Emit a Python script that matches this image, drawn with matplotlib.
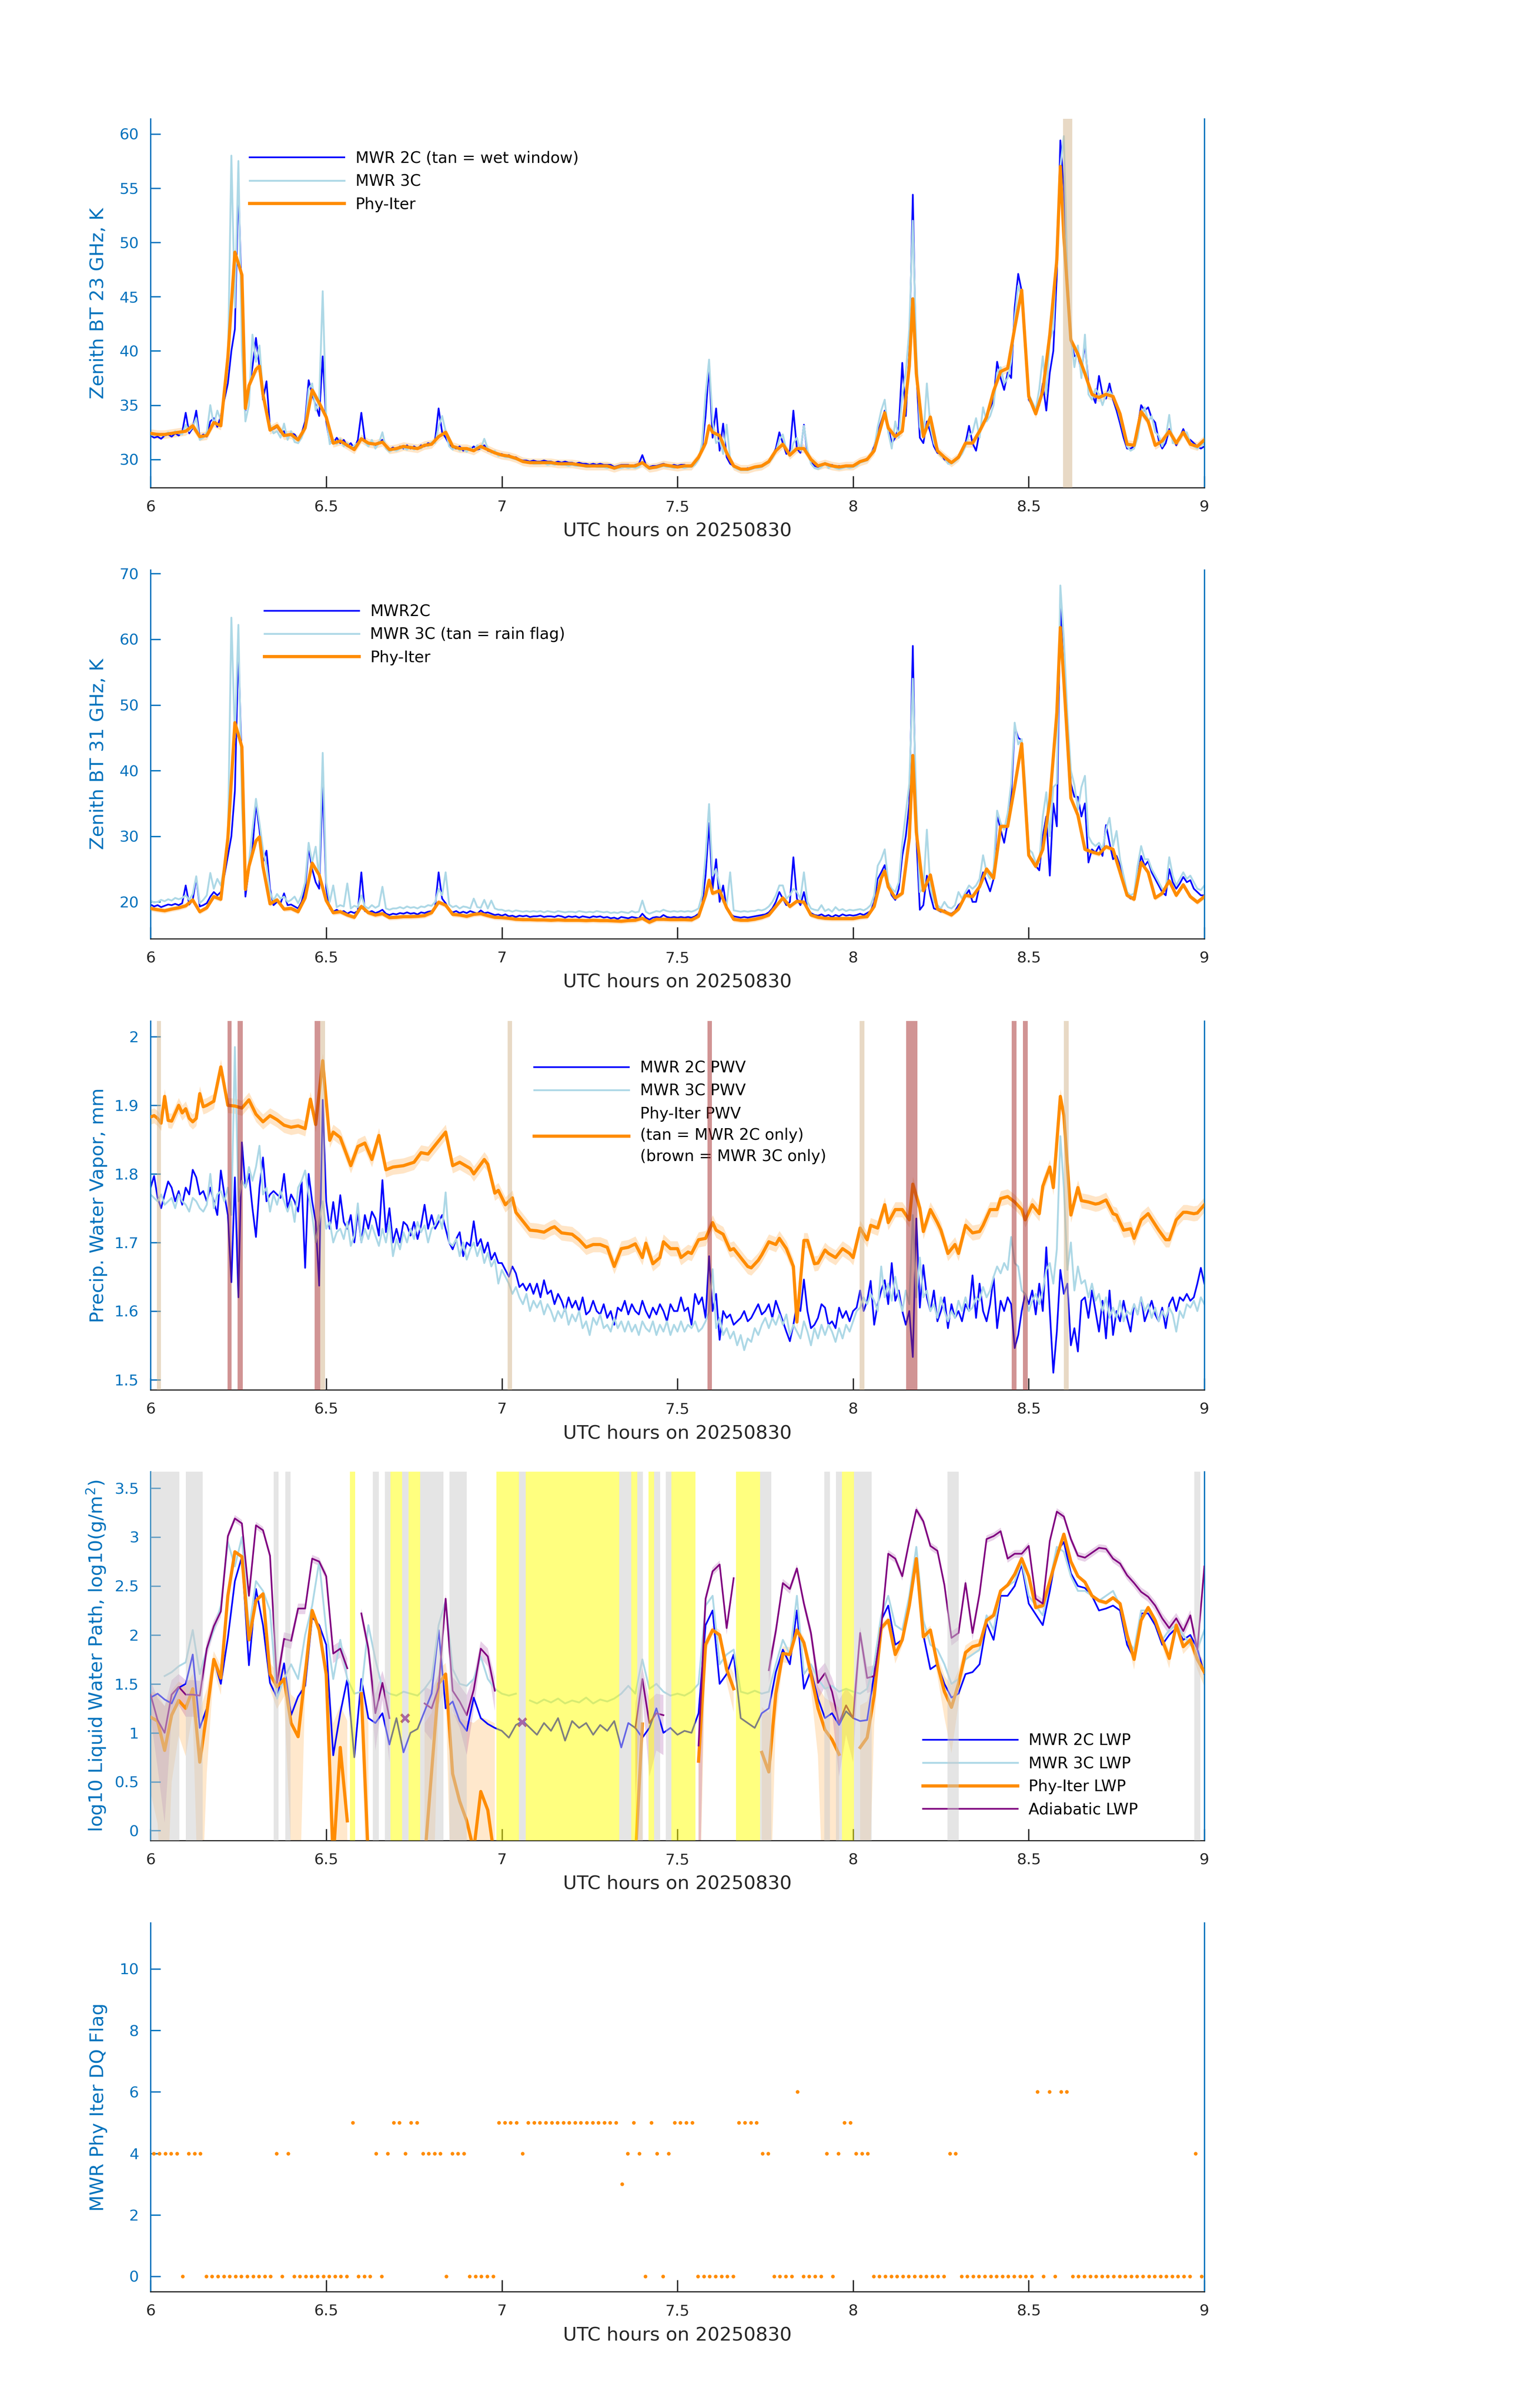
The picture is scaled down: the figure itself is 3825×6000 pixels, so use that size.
import numpy as np
import matplotlib
matplotlib.use("Agg")
import matplotlib.pyplot as plt
from matplotlib.ticker import FuncFormatter

nan = np.nan

# ======================= DATA =======================
# ---- Panel 1: 23 GHz zenith BT (K); MWR series on a 0.01 h grid starting 6.00 ----
bt23_2c = [
    32.2, 32.0, 32.1, 31.9, 32.2, 32.3, 32.1, 32.4, 32.2, 32.5,
    34.3, 32.4, 32.9, 34.5, 32.0, 32.3, 32.1, 33.5, 33.8, 33.0,
    34.0, 35.5, 37.0, 40.0, 42.0, 55.5, 44.0, 34.5, 36.5, 38.5,
    41.2, 38.5, 35.5, 37.2, 33.0, 32.8, 33.0, 32.5, 32.6, 32.0,
    32.4, 32.3, 31.8, 32.4, 33.5, 37.3, 36.0, 35.0, 34.0, 39.5,
    33.5, 31.6, 31.5, 32.0, 31.5, 31.8, 31.2, 31.5, 31.0, 31.8,
    34.3, 31.8, 31.5, 31.6, 31.3, 31.6, 31.8, 31.2, 30.9, 31.1,
    30.9, 31.2, 31.0, 31.3, 31.0, 31.2, 31.0, 31.3, 31.2, 31.5,
    31.4, 31.8, 34.7, 32.5, 32.0, 31.4, 31.1, 31.0, 31.2, 30.8,
    31.0, 30.9, 31.2, 30.9, 31.0, 31.3, 30.8, 30.7, 30.6, 30.5,
    30.5, 30.3, 30.4, 30.2, 30.2, 30.0, 29.9, 29.9, 29.8, 29.9,
    29.8, 29.8, 29.9, 29.8, 29.8, 29.7, 29.8, 29.7, 29.8, 29.7,
    29.7, 29.6, 29.7, 29.6, 29.6, 29.5, 29.6, 29.5, 29.6, 29.5,
    29.5, 29.5, 29.3, 29.4, 29.5, 29.5, 29.5, 29.4, 29.5, 29.6,
    30.4, 29.5, 29.3, 29.4, 29.4, 29.5, 29.6, 29.5, 29.4, 29.5,
    29.4, 29.5, 29.5, 29.4, 29.5, 29.7, 30.2, 31.0, 34.0, 38.6,
    32.0, 34.7, 30.8, 33.3, 30.2, 29.6, 29.4, 29.2, 29.1, 29.1,
    29.2, 29.1, 29.3, 29.3, 29.4, 29.6, 29.8, 30.3, 31.0, 32.5,
    31.5, 30.5, 30.8, 34.5, 31.0, 30.6, 33.2, 30.5, 29.8, 29.4,
    29.3, 29.5, 29.6, 29.4, 29.5, 29.3, 29.4, 29.3, 29.4, 29.3,
    29.4, 29.5, 29.8, 29.9, 30.1, 30.4, 31.2, 32.5, 33.5, 34.5,
    33.0, 31.5, 32.0, 33.0, 38.9, 34.0, 40.0, 54.4, 38.0, 32.0,
    31.5, 33.5, 32.5, 31.2, 30.6, 30.5, 30.0, 29.8, 29.7, 30.0,
    30.3, 30.8, 31.5, 33.1, 31.5, 30.8, 32.5, 33.2, 34.0, 34.7,
    35.5, 39.0, 37.5, 36.4, 38.0, 37.5, 44.0, 47.1, 45.5, 40.0,
    35.5, 35.0, 34.3, 35.0, 37.0, 34.5, 38.0, 40.0, 47.0, 59.4,
    55.0, 46.0, 41.0, 39.5, 39.7, 38.0, 40.7, 37.0, 36.0, 35.2,
    37.7, 36.0, 35.6, 37.0, 35.5, 34.5, 33.3, 32.0, 31.0, 31.0,
    31.2, 33.0, 35.0, 34.5, 34.8, 33.8, 33.4, 31.8, 31.0, 31.5,
    32.8, 32.0, 31.3, 32.0, 32.8, 32.0, 31.8, 31.5, 31.2, 31.0,
    31.2]
bt23_3c = [
    32.3, 32.2, 32.4, 32.3, 32.2, 32.5, 32.3, 32.6, 32.4, 32.3,
    33.2, 32.6, 33.0, 33.8, 31.8, 32.0, 32.5, 35.0, 33.2, 34.5,
    33.6, 36.5, 38.5, 58.0, 44.0, 57.5, 40.0, 33.5, 35.0, 41.5,
    39.0, 40.5, 36.0, 34.5, 33.2, 32.4, 32.6, 32.0, 33.3, 31.8,
    32.6, 31.6, 31.5, 32.0, 33.0, 36.5, 37.0, 34.5, 35.5, 45.5,
    34.0, 31.4, 31.8, 31.4, 31.9, 31.2, 31.5, 31.0, 31.3, 31.5,
    32.0, 31.6, 31.2, 31.8, 31.0, 31.5, 32.5, 31.0, 30.7, 30.9,
    30.8, 31.0, 31.1, 30.9, 31.2, 30.9, 31.1, 31.0, 31.4, 31.2,
    31.6, 31.5, 33.0, 34.0, 32.6, 31.2, 30.9, 31.2, 30.8, 31.0,
    30.7, 31.1, 30.8, 31.3, 31.0, 31.9, 31.0, 30.6, 30.8, 30.3,
    30.4, 30.2, 30.2, 30.1, 30.0, 29.9, 29.8, 29.7, 29.7, 29.6,
    29.6, 29.6, 29.7, 29.5, 29.6, 29.5, 29.6, 29.5, 29.5, 29.4,
    29.5, 29.4, 29.4, 29.4, 29.3, 29.3, 29.4, 29.3, 29.3, 29.3,
    29.2, 29.3, 29.1, 29.2, 29.2, 29.3, 29.2, 29.3, 29.2, 29.3,
    29.8, 29.3, 29.1, 29.2, 29.2, 29.3, 29.4, 29.3, 29.3, 29.2,
    29.3, 29.3, 29.2, 29.3, 29.3, 29.5, 30.0, 31.5, 36.0, 39.2,
    33.5, 31.5, 31.8, 30.5, 33.2, 30.0, 29.3, 29.1, 29.0, 29.0,
    29.0, 29.1, 29.2, 29.2, 29.3, 29.5, 29.7, 30.1, 30.7, 31.8,
    32.3, 30.8, 30.3, 31.5, 32.0, 30.8, 33.1, 30.9, 29.6, 29.2,
    29.1, 29.3, 29.7, 29.2, 29.4, 29.2, 29.1, 29.2, 29.3, 29.2,
    29.3, 29.4, 29.7, 29.8, 29.9, 30.5, 31.0, 33.0, 34.5, 35.5,
    32.5, 31.0, 33.5, 32.0, 36.0, 38.0, 42.0, 52.0, 40.0, 33.0,
    32.0, 37.0, 33.0, 31.5, 30.8, 30.3, 30.2, 29.6, 29.6, 29.8,
    30.1, 30.5, 31.2, 32.2, 32.5, 33.8, 32.0, 34.8, 33.5, 34.0,
    35.0, 38.0, 38.5, 37.0, 37.5, 39.0, 43.0, 46.0, 45.0, 41.0,
    36.0, 35.3, 34.6, 36.5, 39.5, 36.0, 41.0, 42.0, 50.0, 57.0,
    59.8, 47.0, 41.5, 38.5, 40.5, 37.5, 41.5, 36.0, 35.5, 36.5,
    36.0, 35.0, 36.0, 36.3, 35.8, 35.0, 33.8, 32.5, 31.2, 30.8,
    31.0, 32.0, 34.0, 34.8, 33.5, 34.0, 32.5, 32.2, 31.2, 32.0,
    34.1, 31.5, 31.5, 31.8, 32.5, 32.5, 31.5, 31.2, 31.0, 31.3,
    31.5]

# Phy-Iter (panels 1-2): 0.02 h grid plus these extra retrieval times
phy12_extra_t = [6.27, 6.31, 7.59, 8.09, 8.17, 8.59]
bt23_phy = [
    32.4, 32.3, 32.3, 32.4, 32.5, 32.6, 33.1, 32.1, 32.2, 33.4,
    33.1, 39.4, 49.1, 47.0, 34.7, 36.8, 38.3, 38.6, 36.0, 32.7, 33.1, 32.2,
    32.3, 31.8, 32.9, 36.4, 35.2, 33.9, 31.5, 31.7, 31.3, 30.9,
    31.9, 31.5, 31.4, 31.6, 30.9, 31.0, 31.2, 31.1, 31.0, 31.3,
    31.4, 32.1, 32.5, 31.2, 31.0, 31.0, 30.8, 31.2, 30.9, 30.6,
    30.4, 30.3, 30.1, 29.8, 29.7, 29.7, 29.7, 29.7, 29.6, 29.6,
    29.6, 29.5, 29.4, 29.4, 29.4, 29.4, 29.2, 29.4, 29.4, 29.4,
    29.7, 29.2, 29.3, 29.5, 29.4, 29.3, 29.4, 29.4, 30.2, 31.5, 33.1,
    32.5, 32.2, 30.6, 29.4, 29.1, 29.1, 29.3, 29.4, 29.8, 30.8,
    31.4, 30.4, 31.0, 31.0, 30.0, 29.4, 29.6, 29.4, 29.3, 29.4,
    29.4, 29.8, 30.0, 30.8, 33.1, 34.3, 32.9, 32.1, 32.6, 38.6, 44.8, 37.9,
    32.1, 33.9, 30.8, 30.2, 29.7, 30.2, 31.5, 31.5, 32.6, 33.9,
    36.3, 38.1, 38.4, 42.1, 45.6, 35.8, 34.2, 36.3, 41.5, 48.4, 57.0,
    50.5, 41.0, 39.7, 37.9, 36.0, 35.7, 36.0, 35.8, 34.2, 31.4,
    31.3, 34.4, 33.5, 31.3, 31.7, 32.6, 31.5, 32.5, 31.4, 31.2,
    31.8]
bt_phy_sigma = 0.4           # K, Phy-Iter uncertainty
p1_tan = [(8.598, 8.624)]    # wet window

# ---- Panel 2: 31 GHz zenith BT (K) ----
bt31_2c = [
    19.6, 19.3, 19.5, 19.2, 19.4, 19.6, 19.5, 19.7, 19.5, 19.8,
    22.5, 19.6, 20.3, 23.7, 19.3, 19.5, 19.8, 20.8, 21.5, 21.0,
    21.5, 24.0, 27.0, 30.0, 36.9, 59.0, 40.0, 20.8, 25.0, 28.0,
    35.0, 31.0, 26.0, 27.8, 22.0, 19.5, 20.0, 19.8, 21.3, 19.5,
    19.6, 19.3, 19.0, 20.0, 22.0, 28.3, 25.0, 23.0, 22.0, 38.0,
    22.0, 19.0, 18.5, 18.8, 18.4, 18.6, 18.2, 18.5, 18.3, 18.6,
    24.5, 18.6, 18.4, 18.6, 18.3, 18.5, 18.8, 18.2, 18.0, 18.2,
    18.1, 18.3, 18.2, 18.4, 18.2, 18.3, 18.1, 18.4, 18.3, 18.5,
    18.6, 19.2, 24.5, 20.5, 19.8, 18.8, 18.4, 18.6, 18.3, 18.5,
    18.3, 18.6, 18.4, 18.2, 18.7, 18.3, 18.4, 18.2, 18.0, 18.1,
    17.9, 18.1, 17.8, 17.9, 17.7, 17.9, 17.8, 17.9, 17.7, 17.8,
    17.8, 17.9, 17.7, 17.8, 17.8, 17.7, 17.9, 17.8, 17.6, 17.8,
    17.7, 17.8, 17.6, 17.8, 17.7, 17.6, 17.8, 17.7, 17.8, 17.6,
    17.7, 17.5, 17.6, 17.4, 17.7, 17.6, 17.5, 17.7, 17.6, 17.5,
    18.2, 17.6, 17.3, 17.6, 17.7, 17.6, 18.0, 17.7, 17.6, 17.7,
    17.6, 17.7, 17.6, 17.7, 17.6, 17.8, 18.2, 19.5, 24.0, 32.0,
    22.0, 26.5, 20.0, 22.5, 19.0, 18.2, 17.8, 17.7, 17.6, 17.7,
    17.6, 17.7, 17.8, 17.9, 18.0, 18.1, 18.4, 19.0, 20.0, 21.5,
    20.5, 19.5, 20.0, 26.8, 20.5, 19.5, 21.5, 19.0, 18.3, 18.0,
    17.9, 18.1, 17.8, 18.0, 17.7, 18.0, 17.8, 18.1, 17.9, 18.0,
    17.9, 18.0, 18.2, 18.0, 18.3, 18.6, 20.0, 23.5, 24.5, 25.6,
    22.5, 21.0, 20.3, 22.0, 27.0, 30.0, 35.0, 59.0, 30.0, 18.8,
    19.5, 24.0, 21.0, 19.0, 18.8, 18.5, 18.7, 18.3, 18.2, 18.6,
    19.5, 20.0, 21.0, 21.8, 20.0, 20.0, 22.5, 24.5, 23.0, 21.6,
    23.5, 33.2, 31.0, 29.0, 32.0, 36.0, 46.7, 45.0, 44.6, 36.0,
    27.1, 26.5, 25.5, 24.8, 30.0, 33.0, 24.0, 35.0, 31.5, 66.0,
    55.0, 46.0, 38.0, 36.0, 36.0, 33.0, 35.0, 26.0, 28.0, 27.5,
    28.5, 27.0, 31.7, 29.0, 26.5, 27.0, 25.5, 23.5, 21.0, 20.5,
    20.8, 24.0, 27.0, 25.5, 26.2, 24.5, 23.5, 22.5, 21.5, 21.0,
    25.0, 23.0, 22.0, 22.8, 23.8, 23.0, 23.3, 22.0, 21.5, 21.0,
    21.0]
bt31_3c = [
    20.2, 19.9, 20.0, 20.3, 20.1, 20.4, 20.2, 20.6, 20.4, 20.6,
    21.0, 20.3, 21.2, 23.9, 19.8, 20.3, 21.0, 24.4, 22.0, 23.5,
    22.5, 25.5, 29.0, 63.3, 45.0, 62.2, 35.0, 22.0, 26.0, 31.0,
    35.7, 32.0, 28.0, 25.5, 21.5, 20.2, 21.2, 20.5, 20.8, 20.0,
    20.3, 20.8, 19.8, 21.0, 23.0, 29.0, 26.0, 28.4, 23.5, 42.7,
    23.0, 20.0, 22.5, 19.2, 19.5, 19.3, 22.8, 19.0, 19.4, 19.2,
    21.0, 19.3, 19.0, 19.5, 19.1, 19.4, 22.3, 19.0, 18.8, 19.0,
    19.0, 19.2, 19.0, 19.3, 19.1, 19.2, 19.0, 19.3, 19.2, 19.5,
    19.4, 20.0, 22.0, 21.0, 24.5, 19.6, 19.2, 19.4, 19.0, 19.3,
    19.2, 19.0, 20.5, 19.2, 19.1, 20.3, 19.0, 20.2, 19.0, 18.8,
    18.8, 18.6, 18.7, 18.5, 18.7, 18.6, 18.5, 18.6, 18.5, 18.6,
    18.5, 18.6, 18.4, 18.6, 18.5, 18.4, 18.6, 18.5, 18.4, 18.5,
    18.5, 18.4, 18.6, 18.5, 18.4, 18.5, 18.4, 18.6, 18.5, 18.4,
    18.5, 18.3, 18.4, 18.3, 18.5, 18.4, 18.3, 18.6, 18.4, 18.5,
    20.2, 18.5, 18.2, 18.4, 18.6, 18.5, 18.8, 18.6, 18.5, 18.6,
    18.5, 18.6, 18.5, 18.6, 18.5, 18.7, 19.0, 21.0, 27.0, 34.9,
    24.0, 25.0, 22.5, 20.0, 19.5, 24.5, 18.7, 18.6, 18.5, 18.6,
    18.5, 18.6, 18.6, 18.8, 18.7, 18.9, 19.3, 20.0, 21.0, 22.5,
    22.5, 20.5, 21.0, 22.0, 21.5, 20.5, 24.5, 20.0, 19.0, 18.8,
    18.7, 19.5, 18.6, 18.9, 18.5, 19.2, 18.7, 18.9, 18.6, 18.8,
    18.7, 18.8, 18.9, 18.7, 19.0, 19.5, 21.0, 25.5, 26.5, 28.0,
    23.0, 22.0, 21.5, 23.0, 29.0, 33.5, 38.0, 54.0, 35.0, 21.5,
    22.0, 31.0, 22.0, 20.0, 19.5, 19.0, 20.0, 19.2, 19.0, 19.5,
    21.5, 20.5, 21.5, 22.5, 22.0, 22.5, 23.5, 27.1, 24.5, 23.5,
    25.0, 33.9, 32.0, 31.0, 33.5, 38.0, 47.3, 44.0, 44.8, 38.0,
    28.0, 27.5, 26.0, 26.0, 33.0, 36.7, 30.0, 37.5, 38.0, 68.2,
    60.0, 48.6, 40.0, 37.8, 34.0, 37.5, 39.2, 30.0, 29.0, 28.5,
    29.0, 28.0, 31.0, 32.8, 28.5, 30.8, 26.5, 24.0, 21.5, 21.0,
    21.3, 25.5, 28.5, 26.5, 26.5, 25.0, 24.0, 23.0, 22.0, 22.0,
    26.8, 24.0, 22.5, 23.5, 24.5, 23.5, 24.0, 23.0, 22.0, 21.8,
    22.5]
bt31_phy = [
    19.0, 18.8, 18.65, 18.9, 19.1, 19.4, 20.3, 18.5, 19.1, 20.8,
    20.4, 29.7, 47.3, 43.6, 21.9, 25.4, 29.3, 29.9, 25.4, 19.7, 20.3, 18.9,
    19.0, 18.5, 20.6, 25.9, 24.1, 20.2, 18.35, 18.5, 18.0, 17.65,
    19.3, 18.35, 18.0, 18.2, 17.6, 17.65, 17.75, 17.75, 17.8, 17.9,
    18.35, 19.95, 19.5, 18.1, 18.0, 17.8, 18.1, 18.2, 17.9, 17.65,
    17.6, 17.5, 17.35, 17.3, 17.3, 17.25, 17.25, 17.2, 17.25, 17.2,
    17.2, 17.2, 17.15, 17.2, 17.15, 17.15, 17.1, 17.05, 17.15, 17.2,
    17.5, 16.9, 17.35, 17.35, 17.3, 17.3, 17.3, 17.25, 17.8, 21.0, 23.3,
    21.3, 21.7, 19.1, 17.35, 17.2, 17.2, 17.35, 17.6, 18.0, 19.3,
    20.6, 19.3, 20.1, 19.95, 18.0, 17.65, 17.5, 17.45, 17.45, 17.45,
    17.45, 17.65, 17.75, 19.3, 23.6, 24.7, 22.3, 20.6, 21.3, 29.7, 42.3, 30.6,
    21.7, 24.1, 18.9, 18.5, 18.0, 18.9, 21.0, 20.8, 22.3, 25.0,
    23.6, 31.5, 31.5, 37.6, 44.1, 27.1, 25.4, 28.0, 35.4, 48.8, 61.8,
    53.6, 35.8, 33.2, 28.0, 27.6, 27.3, 28.4, 28.0, 24.5, 21.0,
    20.4, 26.0, 24.5, 20.6, 21.3, 23.2, 21.0, 22.6, 20.8, 19.95,
    20.8]

# ---- Panel 3: precipitable water vapour (mm), MWR on 0.01 h grid ----
pwv_2c = [
    1.780, 1.797, 1.765, 1.750, 1.770, 1.789, 1.780, 1.760, 1.775, 1.755,
    1.780, 1.770, 1.806, 1.795, 1.770, 1.775, 1.760, 1.780, 1.760, 1.740,
    1.805, 1.770, 1.740, 1.642, 1.795, 1.620, 1.846, 1.780, 1.800, 1.750,
    1.708, 1.780, 1.824, 1.760, 1.770, 1.775, 1.770, 1.765, 1.800, 1.750,
    1.770, 1.760, 1.745, 1.790, 1.663, 1.800, 1.760, 1.730, 1.637, 1.908,
    1.760, 1.720, 1.759, 1.720, 1.769, 1.730, 1.720, 1.740, 1.700, 1.745,
    1.700, 1.740, 1.720, 1.745, 1.735, 1.710, 1.791, 1.715, 1.750, 1.700,
    1.720, 1.700, 1.730, 1.725, 1.710, 1.730, 1.705, 1.725, 1.755, 1.720,
    1.740, 1.720, 1.730, 1.740, 1.720, 1.700, 1.690, 1.705, 1.715, 1.680,
    1.700, 1.695, 1.731, 1.695, 1.705, 1.685, 1.700, 1.675, 1.685, 1.670,
    1.670, 1.660, 1.650, 1.665, 1.655, 1.635, 1.640, 1.630, 1.640, 1.625,
    1.640, 1.620, 1.645, 1.625, 1.630, 1.610, 1.625, 1.615, 1.600, 1.620,
    1.605, 1.615, 1.600, 1.620, 1.595, 1.600, 1.615, 1.600, 1.595, 1.610,
    1.590, 1.600, 1.580, 1.605, 1.600, 1.615, 1.595, 1.610, 1.600, 1.595,
    1.615, 1.600, 1.590, 1.605, 1.595, 1.610, 1.600, 1.585, 1.610, 1.600,
    1.600, 1.620, 1.600, 1.605, 1.580, 1.625, 1.610, 1.620, 1.590, 1.680,
    1.600, 1.625, 1.558, 1.600, 1.590, 1.595, 1.580, 1.585, 1.590, 1.600,
    1.585, 1.590, 1.600, 1.610, 1.595, 1.600, 1.610, 1.590, 1.615, 1.600,
    1.585, 1.570, 1.556, 1.580, 1.610, 1.600, 1.646, 1.600, 1.575, 1.580,
    1.590, 1.610, 1.605, 1.580, 1.585, 1.575, 1.605, 1.590, 1.600, 1.585,
    1.600, 1.605, 1.630, 1.600, 1.615, 1.644, 1.580, 1.610, 1.630, 1.645,
    1.610, 1.670, 1.615, 1.630, 1.600, 1.580, 1.600, 1.533, 1.735, 1.605,
    1.667, 1.620, 1.600, 1.630, 1.585, 1.600, 1.620, 1.575, 1.610, 1.590,
    1.600, 1.585, 1.610, 1.600, 1.652, 1.590, 1.640, 1.600, 1.585, 1.610,
    1.650, 1.575, 1.615, 1.600, 1.620, 1.610, 1.546, 1.565, 1.600, 1.625,
    1.610, 1.630, 1.595, 1.640, 1.600, 1.693, 1.600, 1.510, 1.570, 1.660,
    1.625, 1.640, 1.550, 1.575, 1.541, 1.615, 1.620, 1.590, 1.630, 1.600,
    1.570, 1.615, 1.560, 1.630, 1.565, 1.600, 1.585, 1.615, 1.590, 1.570,
    1.610, 1.595, 1.620, 1.585, 1.600, 1.615, 1.595, 1.585, 1.605, 1.575,
    1.610, 1.620, 1.600, 1.620, 1.615, 1.625, 1.615, 1.620, 1.640, 1.663,
    1.640]
pwv_3c = [
    1.770, 1.765, 1.760, 1.770, 1.755, 1.760, 1.765, 1.750, 1.770, 1.760,
    1.755, 1.745, 1.765, 1.760, 1.750, 1.745, 1.755, 1.800, 1.750, 1.770,
    1.775, 1.760, 1.780, 1.740, 1.985, 1.760, 1.790, 1.780, 1.810, 1.790,
    1.810, 1.841, 1.770, 1.780, 1.745, 1.770, 1.755, 1.775, 1.760, 1.745,
    1.760, 1.730, 1.780, 1.790, 1.805, 1.770, 1.740, 1.700, 1.730, 1.760,
    1.720, 1.730, 1.700, 1.715, 1.720, 1.705, 1.730, 1.695, 1.710, 1.757,
    1.700, 1.720, 1.705, 1.725, 1.710, 1.695, 1.720, 1.700, 1.730, 1.680,
    1.705, 1.690, 1.715, 1.700, 1.720, 1.705, 1.730, 1.715, 1.725, 1.700,
    1.720, 1.725, 1.740, 1.720, 1.773, 1.700, 1.695, 1.705, 1.680, 1.700,
    1.675, 1.690, 1.700, 1.680, 1.695, 1.670, 1.685, 1.665, 1.675, 1.640,
    1.660, 1.650, 1.640, 1.625, 1.635, 1.620, 1.610, 1.625, 1.600, 1.615,
    1.605, 1.615, 1.595, 1.610, 1.600, 1.585, 1.600, 1.590, 1.605, 1.580,
    1.595, 1.585, 1.600, 1.575, 1.585, 1.565, 1.590, 1.580, 1.595, 1.575,
    1.580, 1.570, 1.590, 1.575, 1.585, 1.570, 1.585, 1.570, 1.580, 1.565,
    1.585, 1.575, 1.570, 1.585, 1.565, 1.580, 1.570, 1.585, 1.565, 1.580,
    1.570, 1.585, 1.570, 1.580, 1.575, 1.585, 1.570, 1.575, 1.585, 1.600,
    1.661, 1.575, 1.590, 1.565, 1.575, 1.560, 1.570, 1.550, 1.565, 1.543,
    1.560, 1.555, 1.575, 1.565, 1.580, 1.590, 1.575, 1.590, 1.580, 1.595,
    1.580, 1.595, 1.565, 1.580, 1.570, 1.560, 1.585, 1.570, 1.550, 1.575,
    1.560, 1.580, 1.565, 1.580, 1.570, 1.555, 1.575, 1.560, 1.580, 1.570,
    1.585, 1.600, 1.605, 1.620, 1.610, 1.625, 1.615, 1.600, 1.665, 1.620,
    1.640, 1.615, 1.650, 1.620, 1.600, 1.630, 1.610, 1.740, 1.620, 1.678,
    1.620, 1.630, 1.600, 1.610, 1.590, 1.620, 1.600, 1.585, 1.600, 1.590,
    1.615, 1.600, 1.620, 1.600, 1.605, 1.620, 1.615, 1.635, 1.620, 1.630,
    1.650, 1.665, 1.655, 1.670, 1.660, 1.708, 1.670, 1.665, 1.630, 1.625,
    1.600, 1.615, 1.625, 1.610, 1.630, 1.660, 1.670, 1.640, 1.690, 1.855,
    1.780, 1.660, 1.700, 1.630, 1.665, 1.640, 1.645, 1.620, 1.640, 1.615,
    1.625, 1.600, 1.620, 1.590, 1.605, 1.590, 1.615, 1.585, 1.600, 1.595,
    1.610, 1.595, 1.620, 1.600, 1.610, 1.590, 1.605, 1.585, 1.600, 1.590,
    1.605, 1.595, 1.570, 1.600, 1.590, 1.610, 1.605, 1.615, 1.600, 1.620,
    1.610]
pwv_phy_t = [
    6.00, 6.01, 6.02, 6.03, 6.04, 6.05, 6.06, 6.08, 6.09, 6.10,
    6.11, 6.12, 6.13, 6.14, 6.15, 6.16, 6.18, 6.20, 6.22, 6.24,
    6.26, 6.28, 6.30, 6.32, 6.34, 6.36, 6.38, 6.40, 6.42, 6.44,
    6.455, 6.47, 6.49, 6.51, 6.52, 6.54, 6.57, 6.59, 6.61, 6.63,
    6.65, 6.67, 6.69, 6.72, 6.75, 6.77, 6.79, 6.84, 6.86, 6.88,
    6.91, 6.92, 6.95, 6.96, 6.98, 6.99, 7.01, 7.03, 7.04, 7.06,
    7.08, 7.10, 7.12, 7.14, 7.15, 7.17, 7.20, 7.22, 7.24, 7.26,
    7.28, 7.30, 7.32, 7.34, 7.36, 7.38, 7.40, 7.41, 7.43, 7.45,
    7.46, 7.48, 7.50, 7.51, 7.53, 7.54, 7.56, 7.58, 7.60, 7.61,
    7.63, 7.65, 7.66, 7.68, 7.70, 7.71, 7.73, 7.74, 7.76, 7.78,
    7.79, 7.81, 7.83, 7.84, 7.86, 7.87, 7.89, 7.90, 7.92, 7.93,
    7.95, 7.97, 7.99, 8.00, 8.02, 8.04, 8.05, 8.07, 8.09, 8.10,
    8.12, 8.14, 8.16, 8.17, 8.19, 8.20, 8.22, 8.24, 8.25, 8.27,
    8.29, 8.30, 8.32, 8.34, 8.36, 8.37, 8.39, 8.41, 8.42, 8.44,
    8.46, 8.48, 8.49, 8.51, 8.53, 8.54, 8.56, 8.57, 8.59, 8.60,
    8.62, 8.64, 8.65, 8.67, 8.69, 8.70, 8.72, 8.74, 8.75, 8.77,
    8.79, 8.80, 8.82, 8.84, 8.85, 8.87, 8.89, 8.90, 8.92, 8.94,
    8.95, 8.97, 8.98, 9.00]
pwv_phy_v = [
    1.883, 1.885, 1.881, 1.874, 1.913, 1.878, 1.877, 1.900, 1.889, 1.895,
    1.881, 1.876, 1.881, 1.917, 1.898, 1.900, 1.906, 1.956, 1.900, 1.899,
    1.896, 1.908, 1.887, 1.876, 1.885, 1.879, 1.871, 1.868, 1.870, 1.866,
    1.909, 1.872, 1.965, 1.849, 1.861, 1.853, 1.812, 1.840, 1.845, 1.821,
    1.856, 1.806, 1.810, 1.812, 1.817, 1.831, 1.829, 1.861, 1.812, 1.817,
    1.808, 1.800, 1.821, 1.814, 1.772, 1.776, 1.755, 1.765, 1.744, 1.731,
    1.718, 1.717, 1.715, 1.721, 1.723, 1.714, 1.712, 1.704, 1.693, 1.697,
    1.697, 1.693, 1.665, 1.691, 1.693, 1.698, 1.678, 1.699, 1.669, 1.678,
    1.701, 1.691, 1.691, 1.678, 1.686, 1.684, 1.704, 1.706, 1.729, 1.718,
    1.712, 1.689, 1.691, 1.678, 1.665, 1.663, 1.674, 1.682, 1.701, 1.697,
    1.706, 1.691, 1.665, 1.584, 1.703, 1.703, 1.669, 1.670, 1.689, 1.684,
    1.678, 1.691, 1.684, 1.678, 1.721, 1.704, 1.725, 1.721, 1.755, 1.729,
    1.748, 1.748, 1.733, 1.785, 1.750, 1.716, 1.748, 1.729, 1.718, 1.684,
    1.697, 1.684, 1.725, 1.714, 1.716, 1.725, 1.748, 1.748, 1.764, 1.767,
    1.759, 1.748, 1.733, 1.755, 1.742, 1.782, 1.810, 1.780, 1.913, 1.885,
    1.740, 1.780, 1.761, 1.759, 1.756, 1.757, 1.762, 1.742, 1.740, 1.718,
    1.720, 1.706, 1.733, 1.742, 1.734, 1.718, 1.704, 1.704, 1.733, 1.744,
    1.744, 1.742, 1.743, 1.755]
pwv_phy_sigma = 0.011
p3_tan = [(6.018, 6.030), (6.483, 6.497), (7.016, 7.029), (8.018, 8.032), (8.600, 8.614)]
p3_brown = [(6.219, 6.230), (6.248, 6.262), (6.467, 6.483), (7.585, 7.598),
            (8.151, 8.183), (8.452, 8.465), (8.483, 8.497)]

# ---- Panel 4: log10 LWP, 0.02 h grid starting 6.00 ----
lwp_2c = [
    1.36, 1.40, 1.34, 1.30, 1.46, 1.50, 1.80, 1.05, 1.25, 1.75,
    1.50, 1.97, 2.55, 2.80, 1.69, 2.47, 2.10, 1.51, 1.36, 1.71,
    1.18, 1.37, 1.48, 2.18, 2.10, 1.90, 0.77, 1.20, 1.55, 0.75,
    1.55, 1.15, 1.10, 1.20, 0.88, 1.15, 0.80, 1.00, 1.04, 1.22,
    1.40, 2.05, 1.25, 1.32, 1.12, 1.02, 1.36, 1.15, 1.09, 1.05,
    1.02, 0.95, 1.08, 1.12, 1.05, 0.98, 1.10, 1.02, 1.15, 0.92,
    1.12, 1.05, 1.10, 0.98, 1.08, 1.02, 1.12, 0.85, 1.10, 1.05,
    0.95, 1.05, 1.25, 1.00, 1.05, 0.98, 1.02, 1.00, 1.20, 2.10,
    2.25, 1.50, 1.60, 1.80, 1.15, 1.10, 1.05, 1.20, 1.25, 1.62,
    1.85, 1.70, 2.25, 1.45, 1.64, 1.35, 1.15, 1.20, 1.08, 1.22,
    1.15, 1.12, 1.13, 1.60, 2.15, 2.30, 1.90, 1.95, 2.30, 2.75,
    2.00, 1.65, 1.70, 1.50, 1.36, 1.40, 1.60, 1.62, 1.70, 2.12,
    1.95, 2.40, 2.40, 2.50, 2.72, 2.32, 2.21, 2.10, 2.45, 2.85,
    2.95, 2.63, 2.50, 2.48, 2.40, 2.25, 2.27, 2.30, 2.25, 1.90,
    1.76, 2.22, 2.22, 2.10, 1.90, 2.00, 2.07, 1.95, 2.00, 1.86,
    1.60]
lwp_3c = [
    nan, nan, 1.58, 1.62, 1.68, 1.72, 2.05, 1.60, 1.85, 2.05,
    2.30, 2.95, 2.70, 3.00, 2.05, 2.55, 2.45, 2.25, 1.35, 1.55,
    1.70, 1.55, 2.00, 2.30, 2.75, 2.05, 1.55, 1.95, 1.55, 1.40,
    1.42, 2.10, 1.75, 1.45, 1.40, 1.38, 1.42, 1.40, 1.38, 1.45,
    1.55, 2.10, 2.35, 1.65, 1.50, 1.48, 1.55, 1.78, 1.55, 1.45,
    1.40, 1.38, 1.40, nan, 1.33, 1.30, 1.34, 1.31, 1.35, 1.30,
    1.33, 1.31, 1.36, 1.30, 1.34, 1.32, 1.35, 1.40, 1.48, 1.40,
    1.75, 1.45, 1.50, 1.42, 1.38, 1.40, 1.38, 1.42, 1.50, 2.30,
    2.40, 1.70, 1.80, 1.85, 1.42, 1.40, 1.43, 1.40, 1.42, 1.70,
    1.95, 1.80, 2.40, 1.60, 1.70, 1.55, 1.45, 1.48, 1.42, 1.45,
    1.42, 1.40, 1.45, 1.70, 2.20, 2.40, 2.10, 2.05, 2.40, 2.90,
    2.15, 1.90, 1.85, 1.70, 1.50, 1.55, 1.75, 1.80, 1.85, 2.20,
    2.05, 2.45, 2.50, 2.55, 2.75, 2.40, 2.30, 2.20, 2.55, 2.90,
    2.85, 2.60, 2.45, 2.45, 2.40, 2.35, 2.40, 2.45, 2.30, 1.95,
    1.85, 2.25, 2.25, 2.15, 1.95, 2.05, 2.10, 2.00, 1.90, 1.85,
    2.05]
lwp_phy = [
    1.16, 1.12, 0.82, 1.18, 1.33, 1.25, 1.45, 0.70, 1.20, 1.75,
    1.56, 2.40, 2.85, 2.80, 1.95, 2.35, 2.42, 1.60, 1.47, 1.55,
    1.10, 0.96, 1.60, 2.25, 2.05, 1.60, -0.30, 0.85, 0.10, nan,
    1.40, -0.30, nan, nan, nan, nan, nan, nan, nan, -0.30,
    0.60, 1.50, 1.60, 0.58, 0.30, 0.10, -0.20, 0.40, 0.21, -0.30,
    nan, nan, nan, nan, nan, nan, nan, nan, nan, nan,
    nan, nan, nan, nan, nan, nan, nan, nan, nan, -0.30,
    1.09, nan, nan, nan, nan, nan, nan, nan, 0.71, 1.90,
    2.05, 2.00, 1.65, 1.45, nan, nan, nan, 0.80, 0.60, 1.40,
    1.81, 1.80, 2.05, 1.92, 1.60, 1.25, 1.03, 0.93, 0.78, nan,
    nan, 0.85, 0.95, 1.38, 2.07, 2.15, 1.80, 1.95, 2.30, 2.78,
    1.98, 2.05, 1.70, 1.42, 1.26, 1.50, 1.82, 1.88, 1.90, 2.15,
    2.20, 2.45, 2.51, 2.62, 2.78, 2.60, 2.28, 2.30, 2.55, 2.80,
    3.03, 2.75, 2.60, 2.54, 2.40, 2.35, 2.33, 2.38, 2.32, 2.00,
    1.75, 2.15, 2.28, 2.15, 1.95, 1.76, 2.10, 1.88, 1.95, 1.75,
    1.62]
lwp_adi = [
    1.39, 1.13, 1.00, 1.39, 1.47, 1.39, 1.39, 1.38, 1.86, 2.09,
    2.24, 3.01, 3.19, 3.14, 2.40, 3.12, 3.07, 2.81, 1.51, 1.96,
    1.94, 2.27, 2.27, 2.78, 2.75, 2.60, 1.81, 1.86, 1.66, nan,
    2.22, 1.86, 1.20, 1.51, 1.15, nan, nan, nan, nan, 1.30,
    1.25, 1.46, 2.37, 1.43, 1.32, 1.18, 1.44, 1.86, 1.78, 1.43,
    nan, nan, nan, nan, nan, nan, nan, nan, nan, nan,
    nan, nan, nan, nan, nan, nan, nan, nan, nan, 1.05,
    1.55, 1.10, 1.20, 1.18, nan, nan, nan, nan, 0.87, 2.37,
    2.65, 2.72, 2.07, 2.58, nan, nan, nan, nan, 1.64, 2.04,
    2.53, 2.47, 2.68, 2.32, 2.02, 1.51, 1.61, 1.42, 1.10, 1.28,
    1.15, 2.02, 1.56, 1.58, 2.07, 2.83, 2.78, 2.60, 2.96, 3.28,
    3.16, 2.91, 2.86, 2.51, 1.97, 2.02, 2.53, 2.02, 2.42, 2.98,
    3.01, 3.06, 2.78, 2.83, 2.83, 2.91, 2.37, 2.32, 2.96, 3.26,
    3.21, 2.98, 2.81, 2.79, 2.84, 2.89, 2.88, 2.78, 2.73, 2.61,
    2.53, 2.44, 2.39, 2.30, 2.17, 2.07, 2.17, 2.04, 2.20, 1.85,
    2.70]
adi_single_t = [6.724, 7.058]      # isolated adiabatic retrievals
adi_single_v = [1.15, 1.11]
phy_lwp_sigma = 12.0               # g/m2
adi_rel_err, adi_abs_err = 0.08, 8.0
p4_gray = [(6.000, 6.082), (6.100, 6.148), (6.351, 6.364), (6.384, 6.399), (6.633, 6.650),
           (6.667, 6.683), (6.716, 6.734), (6.767, 6.834), (6.851, 6.900), (7.049, 7.068),
           (7.334, 7.368), (7.385, 7.401), (7.433, 7.451), (7.467, 7.483), (7.735, 7.767),
           (7.918, 7.934), (7.951, 7.968), (8.003, 8.053), (8.269, 8.301), (8.971, 8.989)]
p4_yellow = [(6.568, 6.582), (6.683, 6.716), (6.734, 6.767), (6.985, 7.049), (7.068, 7.334),
             (7.368, 7.385), (7.417, 7.433), (7.483, 7.551), (7.667, 7.735), (7.968, 8.003)]

# ---- Panel 5: Phy-Iter DQ flag, one value per minute (6:00 .. 8:59) ----
dq_flag = [
    4, 4, 4, 4, 4, 0, 4, 4, 4, 0,
    0, 0, 0, 0, 0, 0, 0, 0, 0, 0,
    0, 4, 0, 4, 0, 0, 0, 0, 0, 0,
    0, 0, 0, 0, 5, 0, 0, 0, 4, 0,
    4, 5, 5, 4, 5, 5, 4, 4, 4, 4,
    0, 4, 4, 4, 0, 0, 0, 0, 0, 5,
    5, 5, 5, 4, 5, 5, 5, 5, 5, 5,
    5, 5, 5, 5, 5, 5, 5, 5, 5, 5,
    3, 4, 5, 4, 0, 5, 4, 0, 4, 5,
    5, 5, 5, 0, 0, 0, 0, 0, 0, 0,
    5, 5, 5, 5, 4, 4, 0, 0, 0, 0,
    6, 0, 0, 0, 0, 4, 0, 4, 5, 5,
    4, 4, 4, 0, 0, 0, 0, 0, 0, 0,
    0, 0, 0, 0, 0, 0, 4, 4, 0, 0,
    0, 0, 0, 0, 0, 0, 0, 0, 0, 0,
    0, 6, 0, 6, 0, 6, 6, 0, 0, 0,
    0, 0, 0, 0, 0, 0, 0, 0, 0, 0,
    0, 0, 0, 0, 0, 0, 0, 0, 4, 0]

# ======================= FIGURE =======================
plt.rcParams['font.family'] = ['DejaVu Sans']

AX_BLUE = (0.0, 0.447, 0.741)
DARK = (0.15, 0.15, 0.15)
C2C, C3C, CPHY, CADI = 'blue', 'lightblue', 'darkorange', 'purple'
GRAY = (0.8, 0.8, 0.8)

fig = plt.figure(figsize=(12.75, 20), dpi=300)
AXL, AXW, AXH = 0.0981, 0.6865, 0.1532
bottoms = [0.7975, 0.6102, 0.4228, 0.2357, 0.0483]
axs = [fig.add_axes([AXL, b, AXW, AXH]) for b in bottoms]
gfmt = FuncFormatter(lambda v, p: f"{v:g}")


def style(ax, ylim, yticks, ylabel):
    ax.set_xlim(6, 9)
    ax.set_ylim(*ylim)
    ax.set_xticks([6, 6.5, 7, 7.5, 8, 8.5, 9])
    ax.set_yticks(yticks)
    ax.xaxis.set_major_formatter(gfmt)
    ax.yaxis.set_major_formatter(gfmt)
    ax.spines['top'].set_visible(False)
    for s in ('left', 'right'):
        ax.spines[s].set_color(AX_BLUE)
        ax.spines[s].set_linewidth(0.8)
    ax.spines['bottom'].set_color(DARK)
    ax.spines['bottom'].set_linewidth(0.7)
    ax.tick_params(axis='x', direction='in', length=7, width=0.8, colors=DARK,
                   labelsize=9.2, pad=7.5, top=False)
    ax.tick_params(axis='y', direction='in', length=6, width=0.8, colors=AX_BLUE,
                   labelsize=9.2, pad=7, right=False)
    ax.set_xlabel('UTC hours on 20250830', fontsize=11.3, color=DARK, labelpad=4.5)
    ax.set_ylabel(ylabel, fontsize=11.3, color=AX_BLUE)
    ax.yaxis.set_label_coords(-0.041, 0.5)


def spans(ax, ranges, color):
    for a, b in ranges:
        ax.axvspan(a, b, color=color, alpha=0.5, lw=0, zorder=6)


def legend(ax, loc, anchor):
    return ax.legend(loc=loc, bbox_to_anchor=anchor, frameon=False, fontsize=9.3,
                     handlelength=6.1, handletextpad=0.7, labelspacing=0.5,
                     borderpad=0, borderaxespad=0)


t01 = lambda v: 6.0 + 0.01 * np.arange(len(v))
t02 = lambda v: 6.0 + 0.02 * np.arange(len(v))
t_phy12 = np.sort(np.concatenate([6.0 + 0.02 * np.arange(151), phy12_extra_t]))

# ---- Panel 1 ----
ax = axs[0]
v = np.array(bt23_phy)
n = min(len(v), len(t_phy12))
ax.fill_between(t_phy12[:n], v[:n] - bt_phy_sigma, v[:n] + bt_phy_sigma,
                color=CPHY, alpha=0.22, lw=0, zorder=1.5)
ax.plot(t01(bt23_2c), bt23_2c, color=C2C, lw=1.0, zorder=2, label='MWR 2C (tan = wet window)')
ax.plot(t01(bt23_3c), bt23_3c, color=C3C, lw=1.1, zorder=2.1, label='MWR 3C')
ax.plot(t_phy12[:n], v[:n], color=CPHY, lw=1.9, zorder=3, label='Phy-Iter')
spans(ax, p1_tan, 'tan')
style(ax, (27.4, 61.4), [30, 35, 40, 45, 50, 55, 60], 'Zenith BT 23 GHz, K')
legend(ax, 'upper left', (0.094, 0.913))

# ---- Panel 2 ----
ax = axs[1]
v = np.array(bt31_phy)
n = min(len(v), len(t_phy12))
ax.fill_between(t_phy12[:n], v[:n] - bt_phy_sigma, v[:n] + bt_phy_sigma,
                color=CPHY, alpha=0.22, lw=0, zorder=1.5)
ax.plot(t01(bt31_2c), bt31_2c, color=C2C, lw=1.0, zorder=2, label='MWR2C')
ax.plot(t01(bt31_3c), bt31_3c, color=C3C, lw=1.1, zorder=2.1, label='MWR 3C (tan = rain flag)')
ax.plot(t_phy12[:n], v[:n], color=CPHY, lw=1.9, zorder=3, label='Phy-Iter')
style(ax, (14.4, 70.6), [20, 30, 40, 50, 60, 70], 'Zenith BT 31 GHz, K')
legend(ax, 'upper left', (0.108, 0.907))

# ---- Panel 3 ----
ax = axs[2]
n = min(len(pwv_phy_t), len(pwv_phy_v))
pt = np.array(pwv_phy_t[:n]); pv = np.array(pwv_phy_v[:n])
ax.fill_between(pt, pv - pwv_phy_sigma, pv + pwv_phy_sigma, color=CPHY, alpha=0.22, lw=0, zorder=1.5)
ax.plot(t01(pwv_2c), pwv_2c, color=C2C, lw=1.0, zorder=2, label='MWR 2C PWV')
ax.plot(t01(pwv_3c), pwv_3c, color=C3C, lw=1.1, zorder=2.1, label='MWR 3C PWV')
ax.plot(pt, pv, color=CPHY, lw=1.9, zorder=3,
        label='Phy-Iter PWV\n(tan = MWR 2C only)\n(brown = MWR 3C only)')
spans(ax, p3_tan, 'tan')
spans(ax, p3_brown, 'brown')
style(ax, (1.485, 2.023), [1.5, 1.6, 1.7, 1.8, 1.9, 2.0], 'Precip. Water Vapor, mm')
leg = legend(ax, 'upper left', (0.364, 0.893))
leg.get_texts()[2].set_linespacing(1.5)

# ---- Panel 4 ----
ax = axs[3]
t4 = t02(lwp_2c)
phy = np.array(lwp_phy, float)
adi = np.array(lwp_adi, float)
m = np.isfinite(phy)
Lp = 10 ** np.where(m, phy, 0.0)
up = np.log10(Lp + phy_lwp_sigma)
lo = np.log10(np.clip(Lp - phy_lwp_sigma, 0.05, None))
ax.fill_between(t02(lwp_phy), lo, up, where=m, color=CPHY, alpha=0.2, lw=0, zorder=1.4)
ma = np.isfinite(adi)
La = 10 ** np.where(ma, adi, 0.0)
sa = adi_rel_err * La + adi_abs_err
ax.fill_between(t02(lwp_adi), np.log10(np.clip(La - sa, 0.05, None)), np.log10(La + sa),
                where=ma, color=CADI, alpha=0.18, lw=0, zorder=1.5)
ax.plot(t4, lwp_2c, color=C2C, lw=1.0, zorder=2, label='MWR 2C LWP')
ax.plot(t02(lwp_3c), lwp_3c, color=C3C, lw=1.1, zorder=2.1, label='MWR 3C LWP')
ax.plot(t02(lwp_phy), phy, color=CPHY, lw=1.9, zorder=3, label='Phy-Iter LWP')
ax.plot(t02(lwp_adi), adi, color=CADI, lw=1.0, zorder=3.5, label='Adiabatic LWP')
ax.plot(adi_single_t, adi_single_v, 'x', color=CADI, ms=5, mew=1.6, zorder=3.5, label='_nolegend_')
spans(ax, p4_gray, GRAY)
spans(ax, p4_yellow, 'yellow')
style(ax, (-0.10, 3.67), [0, 0.5, 1, 1.5, 2, 2.5, 3, 3.5],
      'log10 Liquid Water Path, log10(g/m$^2$)')
legend(ax, 'lower left', (0.733, 0.062))

# ---- Panel 5 ----
ax = axs[4]
t_dq = 6.0 + (np.arange(len(dq_flag)) + 0.5) / 60.0
ax.plot(t_dq, dq_flag, 'o', color=CPHY, ms=2.2, mew=0, zorder=3)
style(ax, (-0.5, 11.5), [0, 2, 4, 6, 8, 10], 'MWR Phy Iter DQ Flag')

fig.savefig('out.png', dpi=300)
